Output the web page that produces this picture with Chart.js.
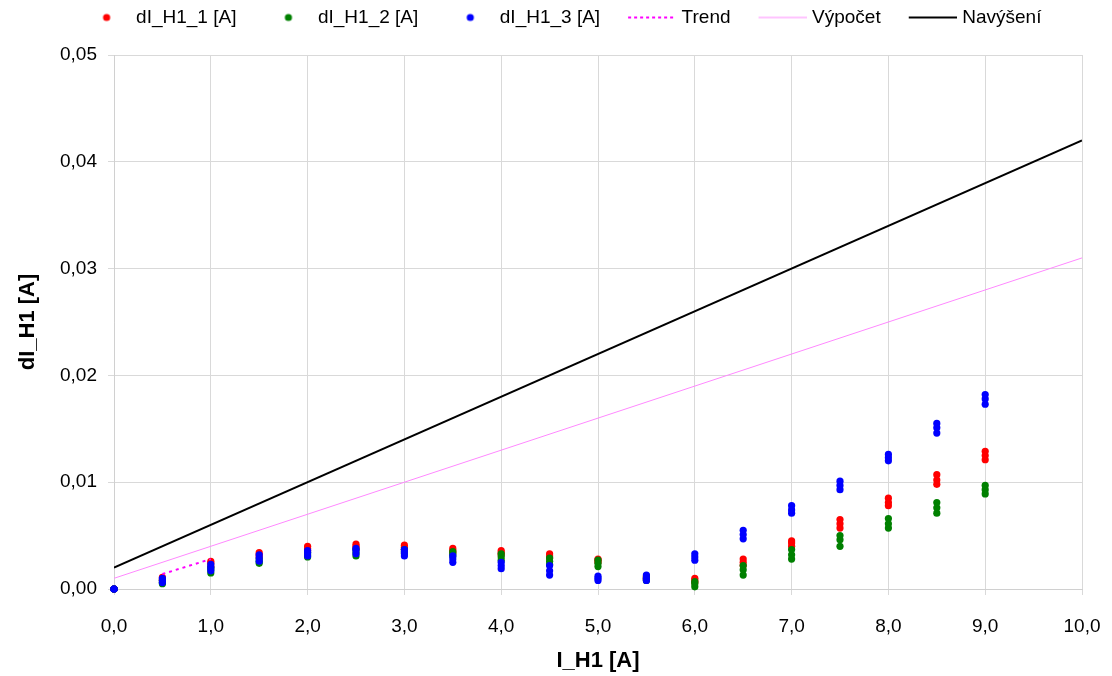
<!DOCTYPE html>
<html>
<head>
<meta charset="utf-8">
<script src="https://cdn.jsdelivr.net/npm/chart.js@4/dist/chart.umd.min.js"></script>
<style>
    body { margin: 0; background: #fff; }
    #wrap { width: 1112px; height: 676px; }
</style>
</head>
<body>
<div id="wrap"><canvas id="chart" width="1112" height="676"></canvas></div>
<script>
// measured currents I_H1 [A], three readings per step
const currents = [0, 0.5, 1.0, 1.5, 2.0, 2.5, 3.0, 3.5, 4.0, 4.5, 5.0, 5.5, 6.0, 6.5, 7.0, 7.5, 8.0, 8.5, 9.0];

const dI1 = [
    [0, 0, 0], [0.0011, 0.0009, 0.0008], [0.0026, 0.0024, 0.0021], [0.0034, 0.0032, 0.0030],
    [0.0040, 0.0038, 0.0036], [0.0042, 0.0040, 0.0038], [0.0041, 0.0039, 0.0037], [0.0038, 0.0036, 0.0034],
    [0.0036, 0.0034, 0.0032], [0.0033, 0.0031, 0.0029], [0.0028, 0.0027, 0.0025], [0.0012, 0.0010, 0.0009],
    [0.0010, 0.0008, 0.0006], [0.0028, 0.0025, 0.0022], [0.0045, 0.0043, 0.0040], [0.0065, 0.0061, 0.0057],
    [0.0085, 0.0081, 0.0078], [0.0107, 0.0102, 0.0098], [0.0129, 0.0125, 0.0121]
];

const dI2 = [
    [0, 0, 0], [0.0008, 0.0006, 0.0005], [0.0020, 0.0018, 0.0015], [0.0028, 0.0026, 0.0024],
    [0.0034, 0.0032, 0.0030], [0.0037, 0.0034, 0.0031], [0.0037, 0.0035, 0.0033], [0.0035, 0.0033, 0.0031],
    [0.0033, 0.0030, 0.0027], [0.0029, 0.0026, 0.0023], [0.0027, 0.0024, 0.0021], [0.0011, 0.0009, 0.0008],
    [0.0007, 0.0005, 0.0002], [0.0022, 0.0018, 0.0013], [0.0037, 0.0032, 0.0028], [0.0050, 0.0046, 0.0040],
    [0.0066, 0.0061, 0.0057], [0.0081, 0.0076, 0.0071], [0.0097, 0.0093, 0.0089]
];

const dI3 = [
    [0, 0, 0], [0.0010, 0.0008, 0.0006], [0.0023, 0.0020, 0.0017], [0.0032, 0.0029, 0.0026],
    [0.0036, 0.0034, 0.0031], [0.0038, 0.0036, 0.0033], [0.0037, 0.0034, 0.0031], [0.0031, 0.0028, 0.0025],
    [0.0025, 0.0022, 0.0019], [0.0022, 0.0017, 0.0013], [0.0012, 0.0010, 0.0008], [0.0013, 0.0010, 0.0008],
    [0.0033, 0.0030, 0.0027], [0.0055, 0.0051, 0.0047], [0.0078, 0.0074, 0.0071], [0.0101, 0.0097, 0.0093],
    [0.0126, 0.0123, 0.0120], [0.0155, 0.0151, 0.0146], [0.0182, 0.0178, 0.0173]
];

const trendX = [0.5, 1.0];
const trendY = [0.0014, 0.0028];

const lineX = [0, 10];
const calcY = [0.001, 0.031];    // Výpočet
const raiseY = [0.002, 0.042];   // Navýšení

const seriesNames = ['dI_H1_1 [A]', 'dI_H1_2 [A]', 'dI_H1_3 [A]', 'Trend', 'Výpočet', 'Navýšení'];

const toPoints = (groups) => currents.flatMap((x, i) => groups[i].map(y => ({ x, y })));
const pairPoints = (xs, ys) => xs.map((x, i) => ({ x, y: ys[i] }));
const comma = (v, d) => v.toFixed(d).replace('.', ',');

// legend icons drawn on small canvases
function dotIcon(color) {
    const c = document.createElement('canvas');
    c.width = 64; c.height = 10;
    const g = c.getContext('2d');
    g.fillStyle = color;
    g.beginPath();
    g.arc(44, 5, 3.6, 0, Math.PI * 2);
    g.fill();
    return c;
}

function lineIcon(color, width, dash) {
    const c = document.createElement('canvas');
    c.width = 72; c.height = 10;
    const g = c.getContext('2d');
    g.strokeStyle = color;
    g.lineWidth = width;
    g.setLineDash(dash);
    g.beginPath();
    g.moveTo(24, 5);
    g.lineTo(72, 5);
    g.stroke();
    return c;
}

const legendIcons = [
    dotIcon('#ff0000'),
    dotIcon('#008000'),
    dotIcon('#0000ff'),
    lineIcon('#ff00ff', 2, [3, 3]),
    lineIcon('#ff88ff', 1, []),
    lineIcon('#000000', 2, [])
];

// give the legend a fixed height so the plot starts where it should
const legendHeight = {
    id: 'legendHeight',
    beforeInit(chart) {
        const fit = chart.legend.fit;
        chart.legend.fit = function () {
            fit.call(this);
            this.height = 55;
        };
    }
};

Chart.defaults.font.family = '"Liberation Sans", Arial, sans-serif';
Chart.defaults.font.size = 19;
Chart.defaults.color = '#000';

const pointSet = (label, groups, color, order) => ({
    label,
    data: toPoints(groups),
    backgroundColor: color,
    borderColor: color,
    borderWidth: 0,
    pointRadius: 3.6,
    showLine: false,
    clip: false,
    order
});

new Chart(document.getElementById('chart'), {
    type: 'scatter',
    data: {
        datasets: [
            pointSet(seriesNames[0], dI1, '#ff0000', 3),
            pointSet(seriesNames[1], dI2, '#008000', 2),
            pointSet(seriesNames[2], dI3, '#0000ff', 1),
            {
                label: seriesNames[3],
                data: pairPoints(trendX, trendY),
                showLine: true,
                borderColor: '#ff00ff',
                borderWidth: 2,
                borderDash: [3, 4],
                pointRadius: 0,
                order: 0
            },
            {
                label: seriesNames[4],
                data: pairPoints(lineX, calcY),
                showLine: true,
                borderColor: '#ff88ff',
                borderWidth: 1,
                pointRadius: 0,
                order: 0
            },
            {
                label: seriesNames[5],
                data: pairPoints(lineX, raiseY),
                showLine: true,
                borderColor: '#000000',
                borderWidth: 2,
                pointRadius: 0,
                order: 0
            }
        ]
    },
    options: {
        responsive: false,
        animation: false,
        layout: { padding: { left: 22, right: 30, top: 0, bottom: 0 } },
        plugins: {
            tooltip: { enabled: false },
            legend: {
                position: 'top',
                labels: {
                    usePointStyle: true,
                    pointStyleWidth: 64,
                    padding: 8,
                    font: { size: 19 },
                    sort: (a, b) => a.datasetIndex - b.datasetIndex,
                    generateLabels(chart) {
                        const items = Chart.defaults.plugins.legend.labels.generateLabels(chart);
                        items.forEach(item => { item.pointStyle = legendIcons[item.datasetIndex]; });
                        return items;
                    }
                }
            }
        },
        scales: {
            x: {
                type: 'linear',
                min: 0,
                max: 10,
                afterFit(scale) {
                    scale.height = 87;
                    scale.paddingLeft = 10;
                    scale.paddingRight = 10;
                },
                ticks: {
                    stepSize: 1,
                    padding: 20,
                    callback: v => comma(v, 1)
                },
                grid: { color: '#d9d9d9', tickLength: 6 },
                border: { color: '#d0d0d0' },
                title: {
                    display: true,
                    text: 'I_H1 [A]',
                    font: { size: 22, weight: 'bold' },
                    padding: { top: 0, bottom: 2 }
                }
            },
            y: {
                type: 'linear',
                min: 0,
                max: 0.05,
                afterFit(scale) { scale.width = 92; },
                ticks: {
                    stepSize: 0.01,
                    padding: 11,
                    callback: v => comma(v, 2)
                },
                grid: { color: '#d9d9d9', tickLength: 6 },
                border: { color: '#d0d0d0' },
                title: {
                    display: true,
                    text: 'dI_H1 [A]',
                    font: { size: 22, weight: 'bold' },
                    padding: { top: -7, bottom: 0 }
                }
            }
        }
    },
    plugins: [legendHeight]
});
</script>
</body>
</html>
